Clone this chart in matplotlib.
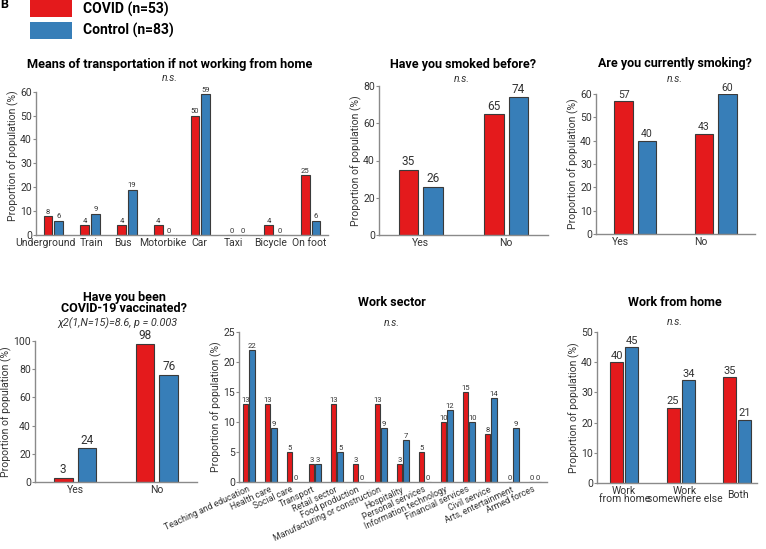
import matplotlib
matplotlib.use("Agg")
import numpy as np
import matplotlib.pyplot as plt
from matplotlib.patches import Rectangle

plt.rcParams['font.family'] = ['Roboto', 'DejaVu Sans']

# data
transport_cats = ["Underground", "Train", "Bus", "Motorbike", "Car", "Taxi", "Bicycle", "On foot"]
transport_covid = [8, 4, 4, 4, 50, 0, 4, 25]
transport_ctrl = [6, 9, 19, 0, 59, 0, 0, 6]

yesno = ["Yes", "No"]
smoked_covid = [35, 65]
smoked_ctrl = [26, 74]
current_covid = [57, 43]
current_ctrl = [40, 60]
vacc_covid = [3, 98]
vacc_ctrl = [24, 76]

sector_cats = ["Teaching and education", "Health care", "Social care", "Transport",
               "Retail sector", "Food production", "Manufacturing or construction",
               "Hospitality", "Personal services", "Information technology",
               "Financial services", "Civil service", "Arts, entertainment", "Armed forces"]
sector_covid = [13, 13, 5, 3, 13, 3, 13, 3, 5, 10, 15, 8, 0, 0]
sector_ctrl = [22, 9, 0, 3, 5, 0, 9, 7, 0, 12, 10, 14, 9, 0]

wfh_cats = ["Work\nfrom home", "Work\nsomewhere else", "Both"]
wfh_covid = [40, 25, 35]
wfh_ctrl = [45, 34, 21]

RED = "#e41a1c"
BLUE = "#377eb8"
EDGE = "#3a3a3a"
SPINE = "#8a8a8a"
TXT = "#333333"

W, H = 766, 549
fig = plt.figure(figsize=(W / 100, H / 100), dpi=100)


def px_axes(left, right, bottom, top):
    return fig.add_axes([left / W, 1 - bottom / H, (right - left) / W, (bottom - top) / H])


def ftext(x, y, s, **kw):
    fig.text(x / W, 1 - y / H, s, ha="center", va="center", **kw)


def bar_panel(ax, cats, covid, ctrl, ymax, ystep, width, off, vsize, xlim, tick_shift=0.0, labels=True):
    x = np.arange(len(cats))
    b1 = ax.bar(x - off, covid, width, color=RED, edgecolor=EDGE, linewidth=0.8)
    b2 = ax.bar(x + off, ctrl, width, color=BLUE, edgecolor=EDGE, linewidth=0.8)
    ax.bar_label(b1, fontsize=vsize, color=TXT, padding=1)
    ax.bar_label(b2, fontsize=vsize, color=TXT, padding=1)
    ax.set_ylim(0, ymax)
    ax.set_yticks(np.arange(0, ymax + 1, ystep))
    ax.set_xlim(*xlim)
    ax.set_xticks(x - tick_shift)
    if labels:
        ax.set_xticklabels(cats)
    else:
        ax.set_xticklabels([""] * len(cats))
    for s in ["top", "right"]:
        ax.spines[s].set_visible(False)
    for s in ["left", "bottom"]:
        ax.spines[s].set_color(SPINE)
        ax.spines[s].set_linewidth(1.0)
    ax.tick_params(axis="x", length=0, pad=2, labelsize=7.5, colors=TXT)
    ax.tick_params(axis="y", length=2, width=0.8, color=SPINE, pad=1, labelsize=7.5, labelcolor=TXT)
    ax.set_ylabel("Proportion of population (%)", fontsize=7.5, color=TXT, labelpad=1)
    return x


# panel 1 - transport
ax1 = px_axes(36, 328, 235, 91.7)
x1 = bar_panel(ax1, transport_cats, transport_covid, transport_ctrl, 60, 10, 0.24, 0.145, 5.5, (-0.47, 7.47))
# labels in the reference sit slightly off the bar groups
ax1.set_xticks(x1 + np.array([-0.22, 0.03, -0.1, -0.02, -0.03, -0.1, -0.08, -0.03]))
ax1.set_xticklabels(transport_cats)
ax1.yaxis.label.set_y(0.55)
ftext(170, 64, "Means of transportation if not working from home", fontsize=9.2, fontweight="bold")
ftext(170, 78, "n.s.", fontsize=7.5, style="italic", color=TXT)

# panel 2 - smoked before
ax2 = px_axes(379, 548, 235, 86)
bar_panel(ax2, yesno, smoked_covid, smoked_ctrl, 80, 20, 0.23, 0.145, 8.5, (-0.49, 1.49))
ftext(463, 64, "Have you smoked before?", fontsize=9, fontweight="bold")
ftext(462, 79, "n.s.", fontsize=7.5, style="italic", color=TXT)

# panel 3 - currently smoking
ax3 = px_axes(596, 755, 234, 94)
bar_panel(ax3, yesno, current_covid, current_ctrl, 60, 10, 0.23, 0.145, 7.5, (-0.49, 1.49), tick_shift=0.19)
ftext(675, 63, "Are you currently smoking?", fontsize=9, fontweight="bold")
ftext(675, 79, "n.s.", fontsize=7.5, style="italic", color=TXT)

# panel 4 - vaccinated
ax4 = px_axes(35, 197, 482, 341)
bar_panel(ax4, yesno, vacc_covid, vacc_ctrl, 100, 20, 0.23, 0.145, 8.5, (-0.49, 1.49))
ftext(124, 297, "Have you been", fontsize=9, fontweight="bold")
ftext(124, 309, "COVID-19 vaccinated?", fontsize=9, fontweight="bold")
ftext(117, 323, "χ2(1,N=15)=8.6, p = 0.003", fontsize=7.8, style="italic", color=TXT)

# panel 5 - work sector
ax5 = px_axes(239, 547, 482, 332)
bar_panel(ax5, sector_cats, sector_covid, sector_ctrl, 25, 5, 0.26, 0.15, 5.5, (-0.45, 13.55))
for lab in ax5.get_xticklabels():
    lab.set_rotation(25)
    lab.set_ha("right")
    lab.set_va("center")
    lab.set_rotation_mode("anchor")
    lab.set_fontsize(6.3)
ax5.tick_params(axis="x", pad=5)
ftext(392, 303, "Work sector", fontsize=9, fontweight="bold")
ftext(392, 323, "n.s.", fontsize=7.5, style="italic", color=TXT)

# panel 6 - work from home
ax6 = px_axes(597, 757, 483, 332)
x6 = bar_panel(ax6, wfh_cats, wfh_covid, wfh_ctrl, 50, 10, 0.23, 0.135, 8, (-0.48, 2.35), labels=False)
lab_shift = [0.0, 0.08, 0.02]
for i, lab in enumerate(wfh_cats):
    ax6.text(x6[i] + lab_shift[i], -0.08, lab, transform=ax6.get_xaxis_transform(), ha="center",
             va="center", fontsize=7.5, color=TXT, linespacing=0.85)
ftext(675, 303, "Work from home", fontsize=9, fontweight="bold")
ftext(675, 322, "n.s.", fontsize=7.5, style="italic", color=TXT)

# legend
fig.patches.append(Rectangle((30 / W, 1 - 17 / H), 42 / W, 17 / H, transform=fig.transFigure,
                             facecolor=RED, edgecolor="none"))
fig.patches.append(Rectangle((30 / W, 1 - 39 / H), 42 / W, 17 / H, transform=fig.transFigure,
                             facecolor=BLUE, edgecolor="none"))
fig.text(83 / W, 1 - 9 / H, "COVID (n=53)", fontsize=10, fontweight="bold", va="center")
fig.text(83 / W, 1 - 30 / H, "Control (n=83)", fontsize=10, fontweight="bold", va="center")
fig.text(0, 1 - 5 / H, "B", fontsize=9, fontweight="bold", va="center")

fig.savefig("out.png", dpi=100)
